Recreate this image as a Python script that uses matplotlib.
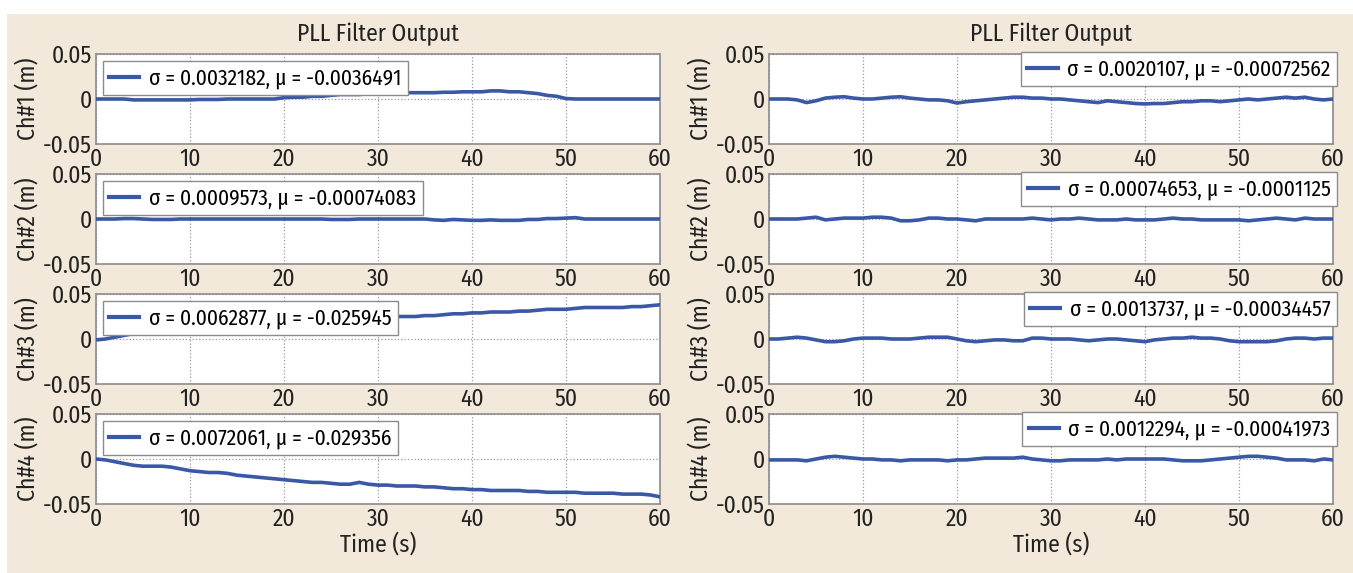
import numpy as np
import matplotlib
matplotlib.use("Agg")
import matplotlib.pyplot as plt
from matplotlib.patches import Rectangle

plt.rcParams['font.family'] = ['Fira Sans Condensed', 'TeX Gyre Heros Cn', 'DejaVu Sans']
plt.rcParams['axes.unicode_minus'] = False

# time axis (s), one reading per second
t = np.arange(0, 61)

# left panel
ch1_left = [0.000, 0.000, 0.000, 0.000, -0.001, -0.001, -0.001, -0.001, -0.001, -0.001,
            -0.001, -0.0005, -0.0005, -0.0005, 0.000, 0.000, 0.000, 0.000, 0.000, 0.000,
            0.0015, 0.002, 0.002, 0.003, 0.003, 0.004, 0.005, 0.005, 0.005, 0.006,
            0.006, 0.0065, 0.007, 0.007, 0.007, 0.007, 0.007, 0.0075, 0.0075, 0.008,
            0.008, 0.008, 0.009, 0.009, 0.008, 0.008, 0.007, 0.006, 0.004, 0.003,
            0.0005, 0.000, 0.000, 0.000, 0.000, 0.000, 0.000, 0.000, 0.000, 0.000, 0.000]
ch2_left = [0, 0, 0, 0.0005, 0.0005, 0, -0.0005, -0.0005, -0.0005, 0,
            0, 0, 0, 0, 0, 0, 0, 0, 0, 0,
            0, 0, 0, 0, 0, -0.0005, -0.0005, -0.0005, 0, 0,
            0, 0, 0, 0, 0, 0, -0.001, -0.0015, -0.0005, -0.001,
            -0.0015, -0.0015, -0.001, -0.0015, -0.0015, -0.0015, -0.0005, -0.0005, 0.0005, 0.0005,
            0.001, 0.0015, 0, 0, 0, 0, 0, 0, 0, 0, 0]
ch3_left = [-0.001, 0.000, 0.002, 0.004, 0.006, 0.007, 0.007, 0.007, 0.008, 0.008,
            0.009, 0.010, 0.011, 0.012, 0.013, 0.014, 0.015, 0.016, 0.017, 0.018,
            0.019, 0.020, 0.020, 0.021, 0.022, 0.022, 0.023, 0.023, 0.024, 0.024,
            0.025, 0.025, 0.025, 0.025, 0.025, 0.026, 0.026, 0.027, 0.028, 0.028,
            0.029, 0.029, 0.030, 0.030, 0.030, 0.031, 0.031, 0.032, 0.033, 0.033,
            0.033, 0.034, 0.035, 0.035, 0.035, 0.035, 0.035, 0.036, 0.036, 0.037, 0.038]
ch4_left = [0.000, -0.001, -0.003, -0.005, -0.007, -0.008, -0.008, -0.008, -0.009, -0.011,
            -0.013, -0.014, -0.015, -0.015, -0.016, -0.018, -0.019, -0.020, -0.021, -0.022,
            -0.023, -0.024, -0.025, -0.026, -0.026, -0.027, -0.028, -0.028, -0.026, -0.028,
            -0.029, -0.029, -0.030, -0.030, -0.030, -0.031, -0.031, -0.032, -0.033, -0.033,
            -0.034, -0.034, -0.035, -0.035, -0.035, -0.035, -0.036, -0.036, -0.037, -0.037,
            -0.037, -0.037, -0.038, -0.038, -0.038, -0.038, -0.039, -0.039, -0.039, -0.040, -0.042]

# right panel
ch1_right = [0.000, 0.000, 0.000, -0.001, -0.004, -0.002, 0.001, 0.002, 0.0025, 0.001,
             0.000, 0.000, 0.001, 0.002, 0.0025, 0.001, 0.000, -0.001, -0.001, -0.002,
             -0.0045, -0.003, -0.002, -0.001, 0.000, 0.001, 0.002, 0.002, 0.001, 0.001,
             0.000, 0.000, -0.001, -0.002, -0.003, -0.004, -0.002, -0.003, -0.004, -0.005,
             -0.0055, -0.005, -0.005, -0.004, -0.003, -0.003, -0.002, -0.002, -0.003, -0.002,
             -0.001, 0.000, -0.001, 0.000, 0.001, 0.002, 0.001, 0.002, 0.000, -0.001, 0.000]
ch2_right = [0.000, 0.000, 0.000, 0.000, 0.001, 0.002, -0.001, 0.000, 0.001, 0.001,
             0.001, 0.002, 0.002, 0.001, -0.002, -0.002, -0.001, 0.001, 0.001, 0.000,
             0.000, -0.001, -0.002, 0.000, 0.000, 0.000, 0.000, 0.000, 0.001, 0.000,
             -0.001, 0.000, 0.000, 0.001, 0.000, -0.001, -0.001, -0.001, 0.000, -0.001,
             -0.001, -0.001, 0.000, 0.001, 0.000, 0.000, -0.001, -0.001, -0.001, -0.001,
             -0.001, -0.002, -0.001, 0.000, 0.001, 0.000, -0.001, 0.001, 0.000, 0.000, 0.000]
ch3_right = [0.000, 0.000, 0.001, 0.002, 0.001, -0.001, -0.003, -0.003, -0.002, 0.000,
             0.001, 0.001, 0.001, 0.000, 0.000, 0.000, 0.001, 0.002, 0.002, 0.002,
             0.000, -0.002, -0.003, -0.002, -0.001, -0.001, -0.002, -0.002, 0.001, 0.001,
             0.000, 0.000, 0.000, -0.001, -0.002, -0.001, 0.000, 0.000, -0.001, -0.002,
             -0.003, -0.001, 0.000, 0.001, 0.001, 0.002, 0.001, 0.001, 0.000, -0.002,
             -0.003, -0.003, -0.003, -0.003, -0.002, 0.000, 0.001, 0.001, 0.000, 0.001, 0.001]
ch4_right = [-0.001, -0.001, -0.001, -0.001, -0.002, 0.000, 0.002, 0.003, 0.002, 0.001,
             0.000, 0.000, -0.001, -0.001, -0.002, -0.001, -0.001, -0.001, -0.001, -0.002,
             -0.001, -0.001, 0.000, 0.001, 0.001, 0.001, 0.001, 0.002, 0.000, -0.001,
             -0.002, -0.002, -0.001, -0.001, -0.001, -0.001, 0.000, -0.001, 0.000, 0.000,
             0.000, 0.000, 0.000, -0.001, -0.002, -0.002, -0.002, -0.001, 0.000, 0.001,
             0.002, 0.003, 0.003, 0.002, 0.001, -0.001, -0.001, -0.001, -0.002, 0.000, -0.001]

labels_left = ["σ = 0.0032182, μ = -0.0036491",
               "σ = 0.0009573, μ = -0.00074083",
               "σ = 0.0062877, μ = -0.025945",
               "σ = 0.0072061, μ = -0.029356"]
labels_right = ["σ = 0.0020107, μ = -0.00072562",
                "σ = 0.00074653, μ = -0.0001125",
                "σ = 0.0013737, μ = -0.00034457",
                "σ = 0.0012294, μ = -0.00041973"]
channels = ["Ch#1 (m)", "Ch#2 (m)", "Ch#3 (m)", "Ch#4 (m)"]
xticks = [0, 10, 20, 30, 40, 50, 60]
yticks = [-0.05, 0, 0.05]
ytick_labels = ["-0.05", "0", "0.05"]

W, H = 1353, 573
fig = plt.figure(figsize=(W / 100, H / 100), dpi=100)
fig.patch.set_facecolor('white')
fig.patches.append(Rectangle((7 / W, 0), 1 - 7 / W, 1 - 14 / H, transform=fig.transFigure,
                             facecolor='#f2e9da', edgecolor='none', zorder=-10))

blue = '#3a58a6'
txt = '#222222'
row_tops = [54, 174, 294, 414]
row_h = 90
panels = [(96, ch1_left, ch2_left, ch3_left, ch4_left), (769, ch1_right, ch2_right, ch3_right, ch4_right)]
for p, (x0, *series) in enumerate(panels):
    labels = labels_left if p == 0 else labels_right
    for i, y in enumerate(series):
        top = row_tops[i]
        ax = fig.add_axes([x0 / W, 1 - (top + row_h) / H, 564 / W, row_h / H])
        ax.set_facecolor('white')
        ax.plot(t, y, color=blue, lw=2.6, label=labels[i], zorder=3)
        ax.set_xlim(0, 60)
        ax.set_ylim(-0.05, 0.05)
        ax.set_xticks(xticks)
        ax.set_yticks(yticks)
        ax.set_yticklabels(ytick_labels)
        ax.tick_params(length=0, labelsize=17, pad=3, colors=txt)
        ax.grid(True, color='#9a9a9a', linestyle=':', lw=0.9)
        for s in ax.spines.values():
            s.set_color('#8c8c8c')
            s.set_linewidth(1.2)
        ax.set_ylabel(channels[i], fontsize=17, color=txt)
        ax.yaxis.set_label_coords(-0.10, 0.5)
        if p == 0:
            leg = ax.legend(loc='upper left', bbox_to_anchor=(0.012, 0.92), borderaxespad=0,
                            fontsize=15.5, handlelength=1.4, borderpad=0.3, handletextpad=0.45)
        else:
            leg = ax.legend(loc='upper right', bbox_to_anchor=(1.007, 1.02), borderaxespad=0,
                            fontsize=15.5, handlelength=1.4, borderpad=0.3, handletextpad=0.45)
        leg.get_frame().set_boxstyle('square', pad=0)
        leg.get_frame().set_edgecolor('#8c8c8c')
        leg.get_frame().set_linewidth(1.0)
        leg.get_frame().set_alpha(1)
        for line in leg.get_lines():
            line.set_linewidth(3)
        if i == 0:
            ax.set_title("PLL Filter Output", fontsize=17, pad=9, color=txt)
        if i == 3:
            ax.set_xlabel("Time (s)", fontsize=17, color=txt, labelpad=1)

fig.savefig("out.png", dpi=100, facecolor=fig.get_facecolor())
